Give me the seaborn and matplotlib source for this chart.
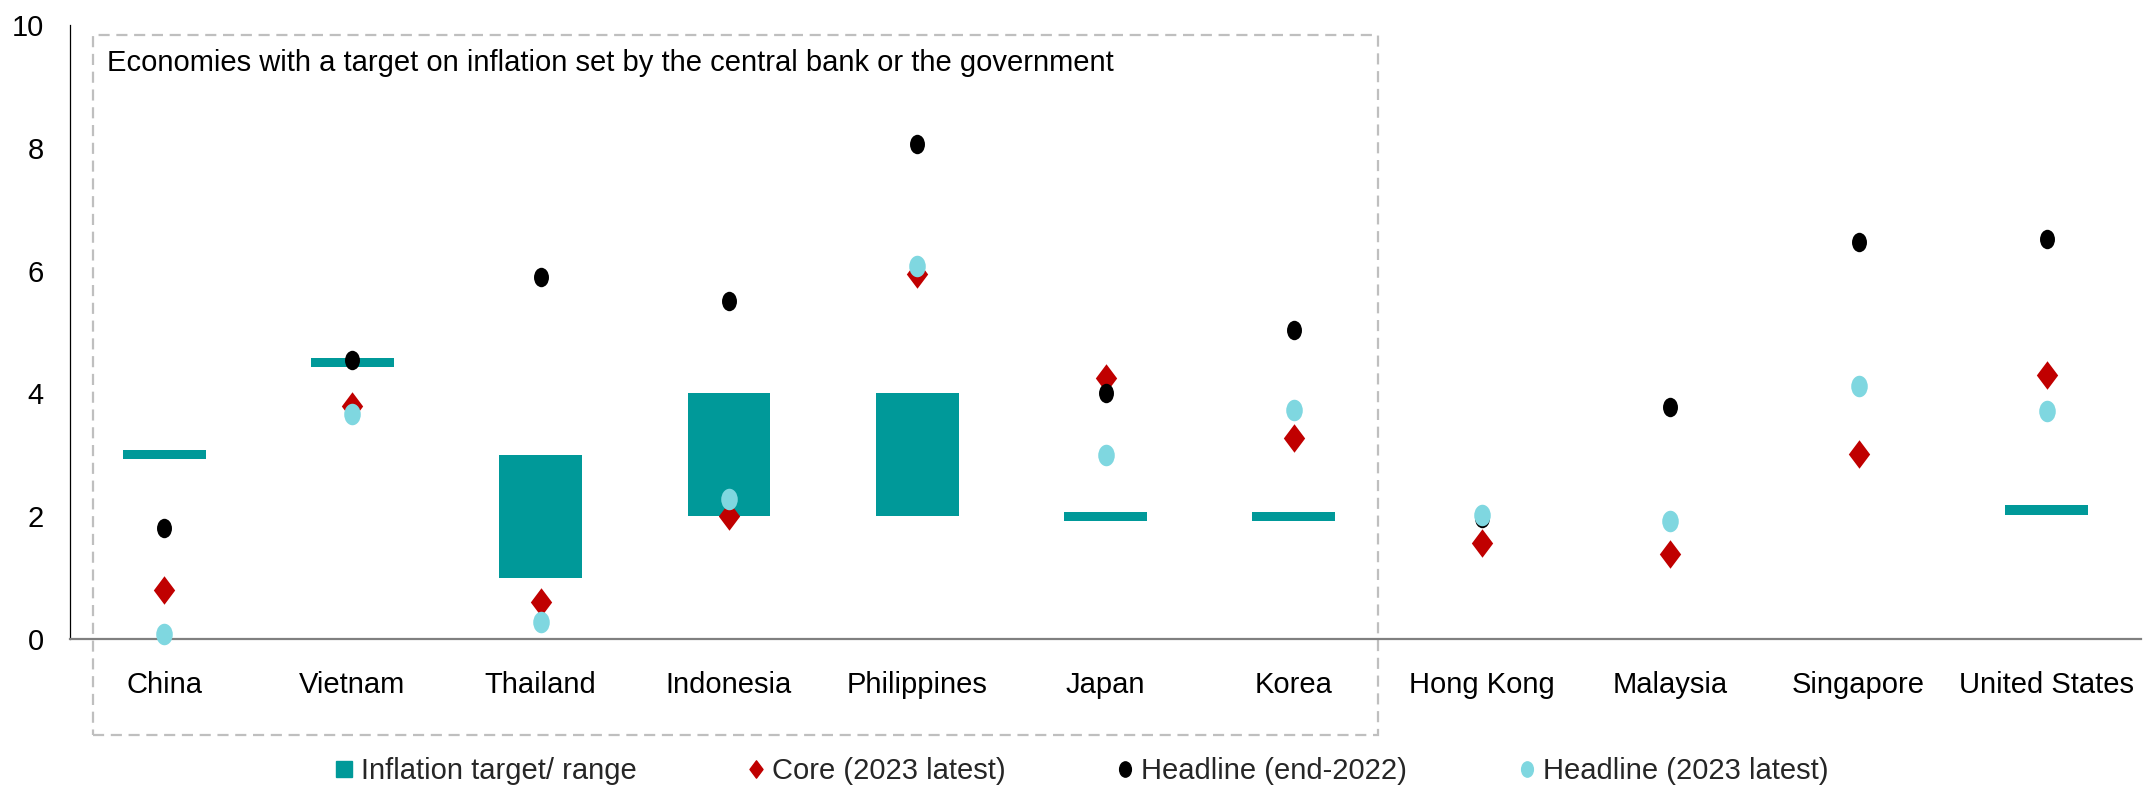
import numpy as np
import matplotlib
matplotlib.use("Agg")
import matplotlib.pyplot as plt
from matplotlib.path import Path
from matplotlib.markers import MarkerStyle
from matplotlib.lines import Line2D
from matplotlib.patches import Rectangle
import seaborn as sns

# ---- data -------------------------------------------------------------
countries = ["China", "Vietnam", "Thailand", "Indonesia", "Philippines", "Japan",
             "Korea", "Hong Kong", "Malaysia", "Singapore", "United States"]
target_low = [3.0, 4.5, 1.0, 2.0, 2.0, 2.0, 2.0, np.nan, np.nan, np.nan, 2.1]
target_high = [3.0, 4.5, 3.0, 4.0, 4.0, 2.0, 2.0, np.nan, np.nan, np.nan, 2.1]
core_2023 = [0.8, 3.8, 0.6, 2.0, 5.95, 4.25, 3.27, 1.57, 1.38, 3.02, 4.3]
headline_2022 = [1.8, 4.55, 5.9, 5.5, 8.06, 4.0, 5.03, 1.97, 3.78, 6.47, 6.52]
headline_2023 = [0.08, 3.66, 0.28, 2.28, 6.08, 3.0, 3.73, 2.02, 1.92, 4.12, 3.71]

legend_labels = ["Inflation target/ range", "Core (2023 latest)",
                 "Headline (end-2022)", "Headline (2023 latest)"]
box_title = "Economies with a target on inflation set by the central bank or the government"

# ---- style ------------------------------------------------------------
TEAL = "#009999"
RED = "#C00000"
BLACK = "#000000"
CYAN = "#7FD7E0"
FS = 21

sns.set_theme(style="white")
plt.rcParams["font.family"] = ["Liberation Sans", "DejaVu Sans"]

# slightly tall ellipse and diamond marker shapes
circ = Path.unit_circle()
ellipse = MarkerStyle(Path(circ.vertices * np.array([1.0, 1.3]), circ.codes))
diamond = MarkerStyle(Path([(0, 1), (0.75, 0), (0, -1), (-0.75, 0), (0, 1)],
                           [Path.MOVETO, Path.LINETO, Path.LINETO, Path.LINETO,
                            Path.CLOSEPOLY]))

fig = plt.figure(figsize=(21.51, 7.85), dpi=100)
ax = fig.add_axes([70 / 2151, 146 / 785, 2071 / 2151, 614 / 785])

# target bands (ranges as floating bars, point targets as thin bars)
x_pos = np.arange(len(countries))
lo = np.array(target_low)
hi = np.array(target_high)
thin = 0.15
bottoms = np.where(hi > lo, lo, lo - thin / 2)
heights = np.where(hi > lo, hi - lo, thin)
has_target = ~np.isnan(lo)
ax.bar(x_pos[has_target], heights[has_target], bottom=bottoms[has_target],
       width=0.44, color=TEAL, linewidth=0, zorder=2)

# point series
sns.stripplot(x=countries, y=core_2023, order=countries, jitter=False, ax=ax,
              marker=diamond, size=20.5, color=RED, linewidth=0, zorder=3, clip_on=False)
sns.stripplot(x=countries, y=headline_2022, order=countries, jitter=False, ax=ax,
              marker=ellipse, size=14, color=BLACK, linewidth=0, zorder=4, clip_on=False)
sns.stripplot(x=countries, y=headline_2023, order=countries, jitter=False, ax=ax,
              marker=ellipse, size=15.5, color=CYAN, linewidth=0, zorder=5, clip_on=False)

# axes
ax.set_xlim(-0.5, len(countries) - 0.5)
ax.set_ylim(0, 10)
ax.set_yticks(np.arange(0, 11, 2))
ax.set_xticks(x_pos)
ax.set_xticklabels(countries)
ax.tick_params(axis="y", length=0, pad=19, labelsize=FS, labelcolor="black")
ax.tick_params(axis="x", length=0, pad=23, labelsize=FS, labelcolor="black")
ax.set_xlabel("")
ax.set_ylabel("")
for side in ("top", "right"):
    ax.spines[side].set_visible(False)
ax.spines["left"].set_color("black")
ax.spines["left"].set_linewidth(0.9)
ax.spines["bottom"].set_color("#808080")
ax.spines["bottom"].set_linewidth(1.6)
ax.grid(False)

# dashed group box around the inflation-targeting economies
box = Rectangle((-0.378, -1.56), 6.446 + 0.378, 9.84 + 1.56, fill=False,
                edgecolor="#BFBFBF", linewidth=1.6, linestyle=(0, (5, 3)),
                clip_on=False, zorder=1)
ax.add_patch(box)
fig.text(107 / 2151, 1 - 71 / 785, box_title, fontsize=FS, color="black",
         ha="left", va="baseline")

# legend
handles = [
    Line2D([], [], linestyle="none", marker="s", markersize=11, color=TEAL),
    Line2D([], [], linestyle="none", marker=diamond, markersize=12.5, color=RED),
    Line2D([], [], linestyle="none", marker=ellipse, markersize=11, color=BLACK),
    Line2D([], [], linestyle="none", marker=ellipse, markersize=11, color=CYAN),
]
fig.legend(handles, legend_labels, loc="center", bbox_to_anchor=(0.503, 14 / 785),
           ncol=4, frameon=False, fontsize=FS, handlelength=0.6, handletextpad=0.25,
           columnspacing=3.8, borderaxespad=0, borderpad=0)

fig.savefig("out.png", dpi=100)
